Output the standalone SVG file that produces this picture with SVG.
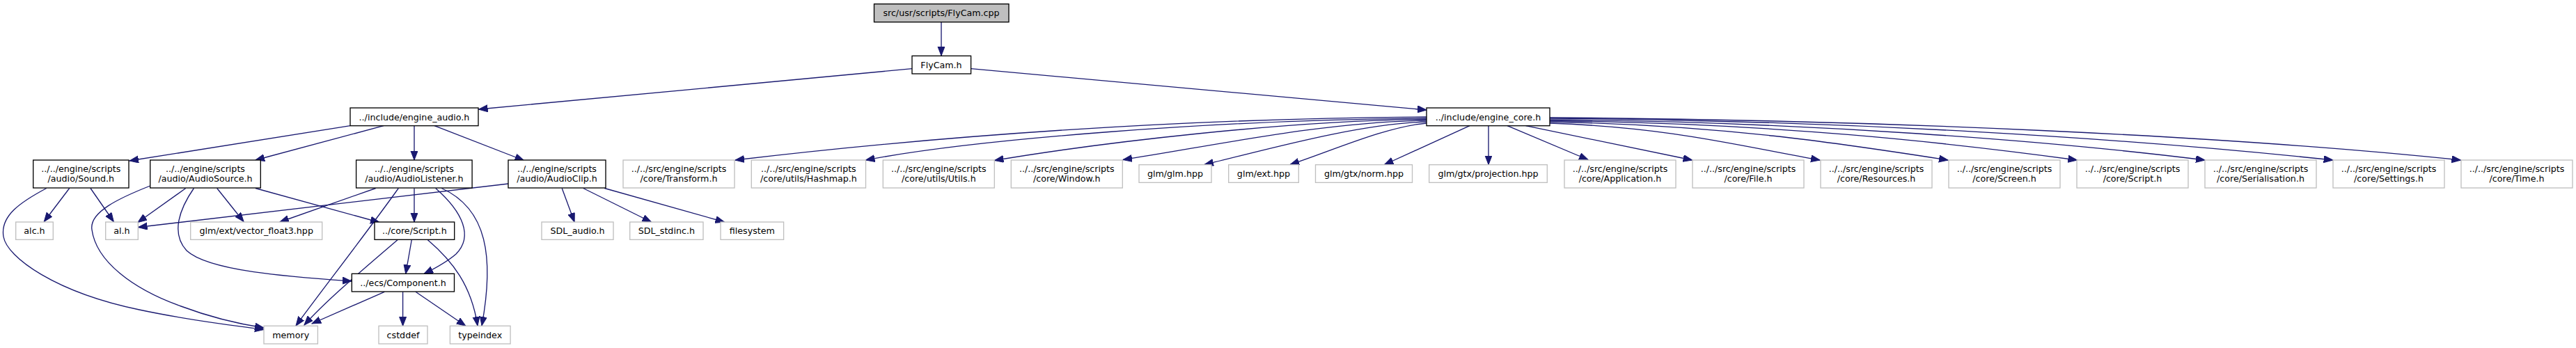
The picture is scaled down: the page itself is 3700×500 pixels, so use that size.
<svg xmlns="http://www.w3.org/2000/svg" width="3700" height="500" viewBox="0 0 3700 500">
<style>
.n rect{fill:#fff;stroke:#000;stroke-width:1.33}
.n.root rect{fill:#bfbfbf}
.n.ext rect{stroke:#bfbfbf}
.n text{font-family:"DejaVu Sans",sans-serif;font-size:12.67px;fill:#000;text-anchor:middle}
#edges path{fill:none;stroke:#191970;stroke-width:1.33;marker-end:url(#arr)}
</style>
<defs>
<marker id="arr" markerUnits="userSpaceOnUse" markerWidth="14" markerHeight="11" refX="13" refY="5" orient="auto">
<path d="M0,0 L13,5 L0,10 z" fill="#191970" stroke="#191970" stroke-width="1"/>
</marker>
</defs>
<rect width="3700" height="500" fill="#fff"/>
<g id="edges">
<path d="M1352,32 L1352,80"/>
<path d="M1310,98.7 L687.5,157"/>
<path d="M1394.6,98.7 L2049,158"/>
<path d="M503,180.7 L186,231"/>
<path d="M551,180.7 L367,230"/>
<path d="M595,180.7 L595,230"/>
<path d="M624,180.7 L752.5,230.5"/>
<path d="M99.7,270.5 L63.3,318.5"/>
<path d="M130,270.5 L163.3,318.5"/>
<path d="M66.7,270.5 C30,290 0,310 5,340 C10,370 80,420 200,445 C280,462 340,468 379,473.5"/>
<path d="M266.7,270.5 L198,319.5"/>
<path d="M311.7,270.5 L350,318.5"/>
<path d="M215.7,267 C170,285 128,305 132,330 C138,375 190,415 260,440 C300,455 340,465 379,471"/>
<path d="M278.4,270.5 C258,300 245,335 268,360 C300,390 420,398 505,404"/>
<path d="M367,270.5 L545,319.5"/>
<path d="M539.6,270.5 L401.8,319"/>
<path d="M572.3,270.5 C530,330 460,420 425,468"/>
<path d="M595,270.5 L595,319"/>
<path d="M625.7,270.5 C665,305 680,340 655,365 C640,378 620,388 609,393.5"/>
<path d="M634.3,270.5 C700,300 710,370 692,468"/>
<path d="M730,264 L198.5,326.5"/>
<path d="M807.2,270.5 L825.1,319"/>
<path d="M837.8,270.5 L935.4,319"/>
<path d="M868.4,270.5 L1040.6,319"/>
<path d="M591.3,344.5 L582.7,393.3"/>
<path d="M571.2,344.5 C530,380 470,430 437,467"/>
<path d="M614.2,344.5 C650,375 677,410 686,468"/>
<path d="M552.2,419.3 L448,465"/>
<path d="M578.6,419.3 L578.6,468.3"/>
<path d="M597,419.3 L668.8,468.3"/>
<path d="M2049,168 C1700,170 1350,195 1056,230"/>
<path d="M2049,170 C1750,172 1400,200 1243.5,230"/>
<path d="M2049,171.5 C1850,173 1580,205 1428.5,230.5"/>
<path d="M2049,173 C1900,175 1740,210 1613,229.5"/>
<path d="M2049,175 C1950,178 1820,215 1730,236.5"/>
<path d="M2049,177 C1990,182 1910,218 1853,236.5"/>
<path d="M2111,180.7 L1988.5,236.5"/>
<path d="M2138,180.7 L2138,236.5"/>
<path d="M2165,180.7 L2281,229.5"/>
<path d="M2191.5,180.7 L2430.5,230"/>
<path d="M2226,177 C2400,183 2500,210 2614,230"/>
<path d="M2226,175 C2480,180 2650,207 2798,230"/>
<path d="M2226,173.5 C2550,177 2800,205 2983.5,230"/>
<path d="M2226,172 C2600,175 2950,203 3167,230"/>
<path d="M2226,170 C2650,173 3050,198 3350.7,230"/>
<path d="M2226,169 C2700,172 3200,195 3534.5,230"/>
</g>
<g id="n_flycam_cpp" class="n root"><rect x="1255.5" y="5.7" width="193.5" height="26"/><text x="1352" y="23.3">src/usr/scripts/FlyCam.cpp</text></g>
<g id="n_flycam_h" class="n"><rect x="1310" y="80.3" width="84.6" height="25.7"/><text x="1352" y="97.8">FlyCam.h</text></g>
<g id="n_engine_audio" class="n"><rect x="503" y="155" width="184" height="25.7"/><text x="595" y="172.5">../include/engine_audio.h</text></g>
<g id="n_engine_core" class="n"><rect x="2049" y="155" width="177" height="25.7"/><text x="2137.5" y="172.5">../include/engine_core.h</text></g>
<g id="n_sound" class="n"><rect x="47.7" y="230" width="137.3" height="40"/><text x="116.3" y="246.5">../../engine/scripts</text><text x="116.3" y="260.5">/audio/Sound.h</text></g>
<g id="n_audiosource" class="n"><rect x="215.7" y="230" width="158.6" height="40"/><text x="295" y="246.5">../../engine/scripts</text><text x="295" y="260.5">/audio/AudioSource.h</text></g>
<g id="n_audiolistener" class="n"><rect x="511.6" y="230" width="166.5" height="40"/><text x="594.9" y="246.5">../../engine/scripts</text><text x="594.9" y="260.5">/audio/AudioListener.h</text></g>
<g id="n_audioclip" class="n"><rect x="730" y="230" width="140" height="40"/><text x="800" y="246.5">../../engine/scripts</text><text x="800" y="260.5">/audio/AudioClip.h</text></g>
<g id="n_transform" class="n ext"><rect x="895" y="230" width="160" height="40"/><text x="975" y="246.5">../../src/engine/scripts</text><text x="975" y="260.5">/core/Transform.h</text></g>
<g id="n_hashmap" class="n ext"><rect x="1079.3" y="230" width="164.2" height="40"/><text x="1161.4" y="246.5">../../src/engine/scripts</text><text x="1161.4" y="260.5">/core/utils/Hashmap.h</text></g>
<g id="n_utils" class="n ext"><rect x="1268.3" y="230" width="160" height="40"/><text x="1348.3" y="246.5">../../src/engine/scripts</text><text x="1348.3" y="260.5">/core/utils/Utils.h</text></g>
<g id="n_window" class="n ext"><rect x="1452.3" y="230" width="160" height="40"/><text x="1532.3" y="246.5">../../src/engine/scripts</text><text x="1532.3" y="260.5">/core/Window.h</text></g>
<g id="n_glm" class="n ext"><rect x="1636" y="236.7" width="104" height="25.6"/><text x="1688" y="254.1">glm/glm.hpp</text></g>
<g id="n_ext" class="n ext"><rect x="1764.7" y="236.7" width="100.6" height="25.6"/><text x="1815" y="254.1">glm/ext.hpp</text></g>
<g id="n_norm" class="n ext"><rect x="1889.5" y="236.7" width="139" height="25.6"/><text x="1959" y="254.1">glm/gtx/norm.hpp</text></g>
<g id="n_projection" class="n ext"><rect x="2052.7" y="236.7" width="169.6" height="25.6"/><text x="2137.5" y="254.1">glm/gtx/projection.hpp</text></g>
<g id="n_application" class="n ext"><rect x="2247" y="230" width="160" height="40"/><text x="2327" y="246.5">../../src/engine/scripts</text><text x="2327" y="260.5">/core/Application.h</text></g>
<g id="n_file" class="n ext"><rect x="2431" y="230" width="160" height="40"/><text x="2511" y="246.5">../../src/engine/scripts</text><text x="2511" y="260.5">/core/File.h</text></g>
<g id="n_resources" class="n ext"><rect x="2615" y="230" width="160" height="40"/><text x="2695" y="246.5">../../src/engine/scripts</text><text x="2695" y="260.5">/core/Resources.h</text></g>
<g id="n_screen" class="n ext"><rect x="2799" y="230" width="160" height="40"/><text x="2879" y="246.5">../../src/engine/scripts</text><text x="2879" y="260.5">/core/Screen.h</text></g>
<g id="n_script_core" class="n ext"><rect x="2983" y="230" width="160" height="40"/><text x="3063" y="246.5">../../src/engine/scripts</text><text x="3063" y="260.5">/core/Script.h</text></g>
<g id="n_serialisation" class="n ext"><rect x="3167" y="230" width="160" height="40"/><text x="3247" y="246.5">../../src/engine/scripts</text><text x="3247" y="260.5">/core/Serialisation.h</text></g>
<g id="n_settings" class="n ext"><rect x="3351" y="230" width="160" height="40"/><text x="3431" y="246.5">../../src/engine/scripts</text><text x="3431" y="260.5">/core/Settings.h</text></g>
<g id="n_time" class="n ext"><rect x="3535" y="230" width="160" height="40"/><text x="3615" y="246.5">../../src/engine/scripts</text><text x="3615" y="260.5">/core/Time.h</text></g>
<g id="n_alc" class="n ext"><rect x="22.7" y="319" width="53.6" height="25.3"/><text x="49.5" y="336.3">alc.h</text></g>
<g id="n_al" class="n ext"><rect x="151.7" y="319" width="46.6" height="25.3"/><text x="175" y="336.3">al.h</text></g>
<g id="n_vec3" class="n ext"><rect x="273.7" y="319" width="189" height="25.3"/><text x="368.2" y="336.3">glm/ext/vector_float3.hpp</text></g>
<g id="n_script_rel" class="n"><rect x="538" y="319" width="114.7" height="25.3"/><text x="595.3" y="336.3">../core/Script.h</text></g>
<g id="n_sdl_audio" class="n ext"><rect x="778" y="319" width="103" height="25.3"/><text x="829.5" y="336.3">SDL_audio.h</text></g>
<g id="n_sdl_stdinc" class="n ext"><rect x="904.7" y="319" width="105.3" height="25.3"/><text x="957.3" y="336.3">SDL_stdinc.h</text></g>
<g id="n_filesystem" class="n ext"><rect x="1035" y="319" width="90.6" height="25.3"/><text x="1080.3" y="336.3">filesystem</text></g>
<g id="n_component" class="n"><rect x="505.3" y="393.3" width="147.2" height="25.7"/><text x="579" y="410.8">../ecs/Component.h</text></g>
<g id="n_memory" class="n ext"><rect x="379" y="468.3" width="77.4" height="25.7"/><text x="417.7" y="485.8">memory</text></g>
<g id="n_cstddef" class="n ext"><rect x="544" y="468.3" width="70" height="25.7"/><text x="579" y="485.8">cstddef</text></g>
<g id="n_typeindex" class="n ext"><rect x="646.4" y="468.3" width="86.7" height="25.7"/><text x="689.7" y="485.8">typeindex</text></g>
</svg>
